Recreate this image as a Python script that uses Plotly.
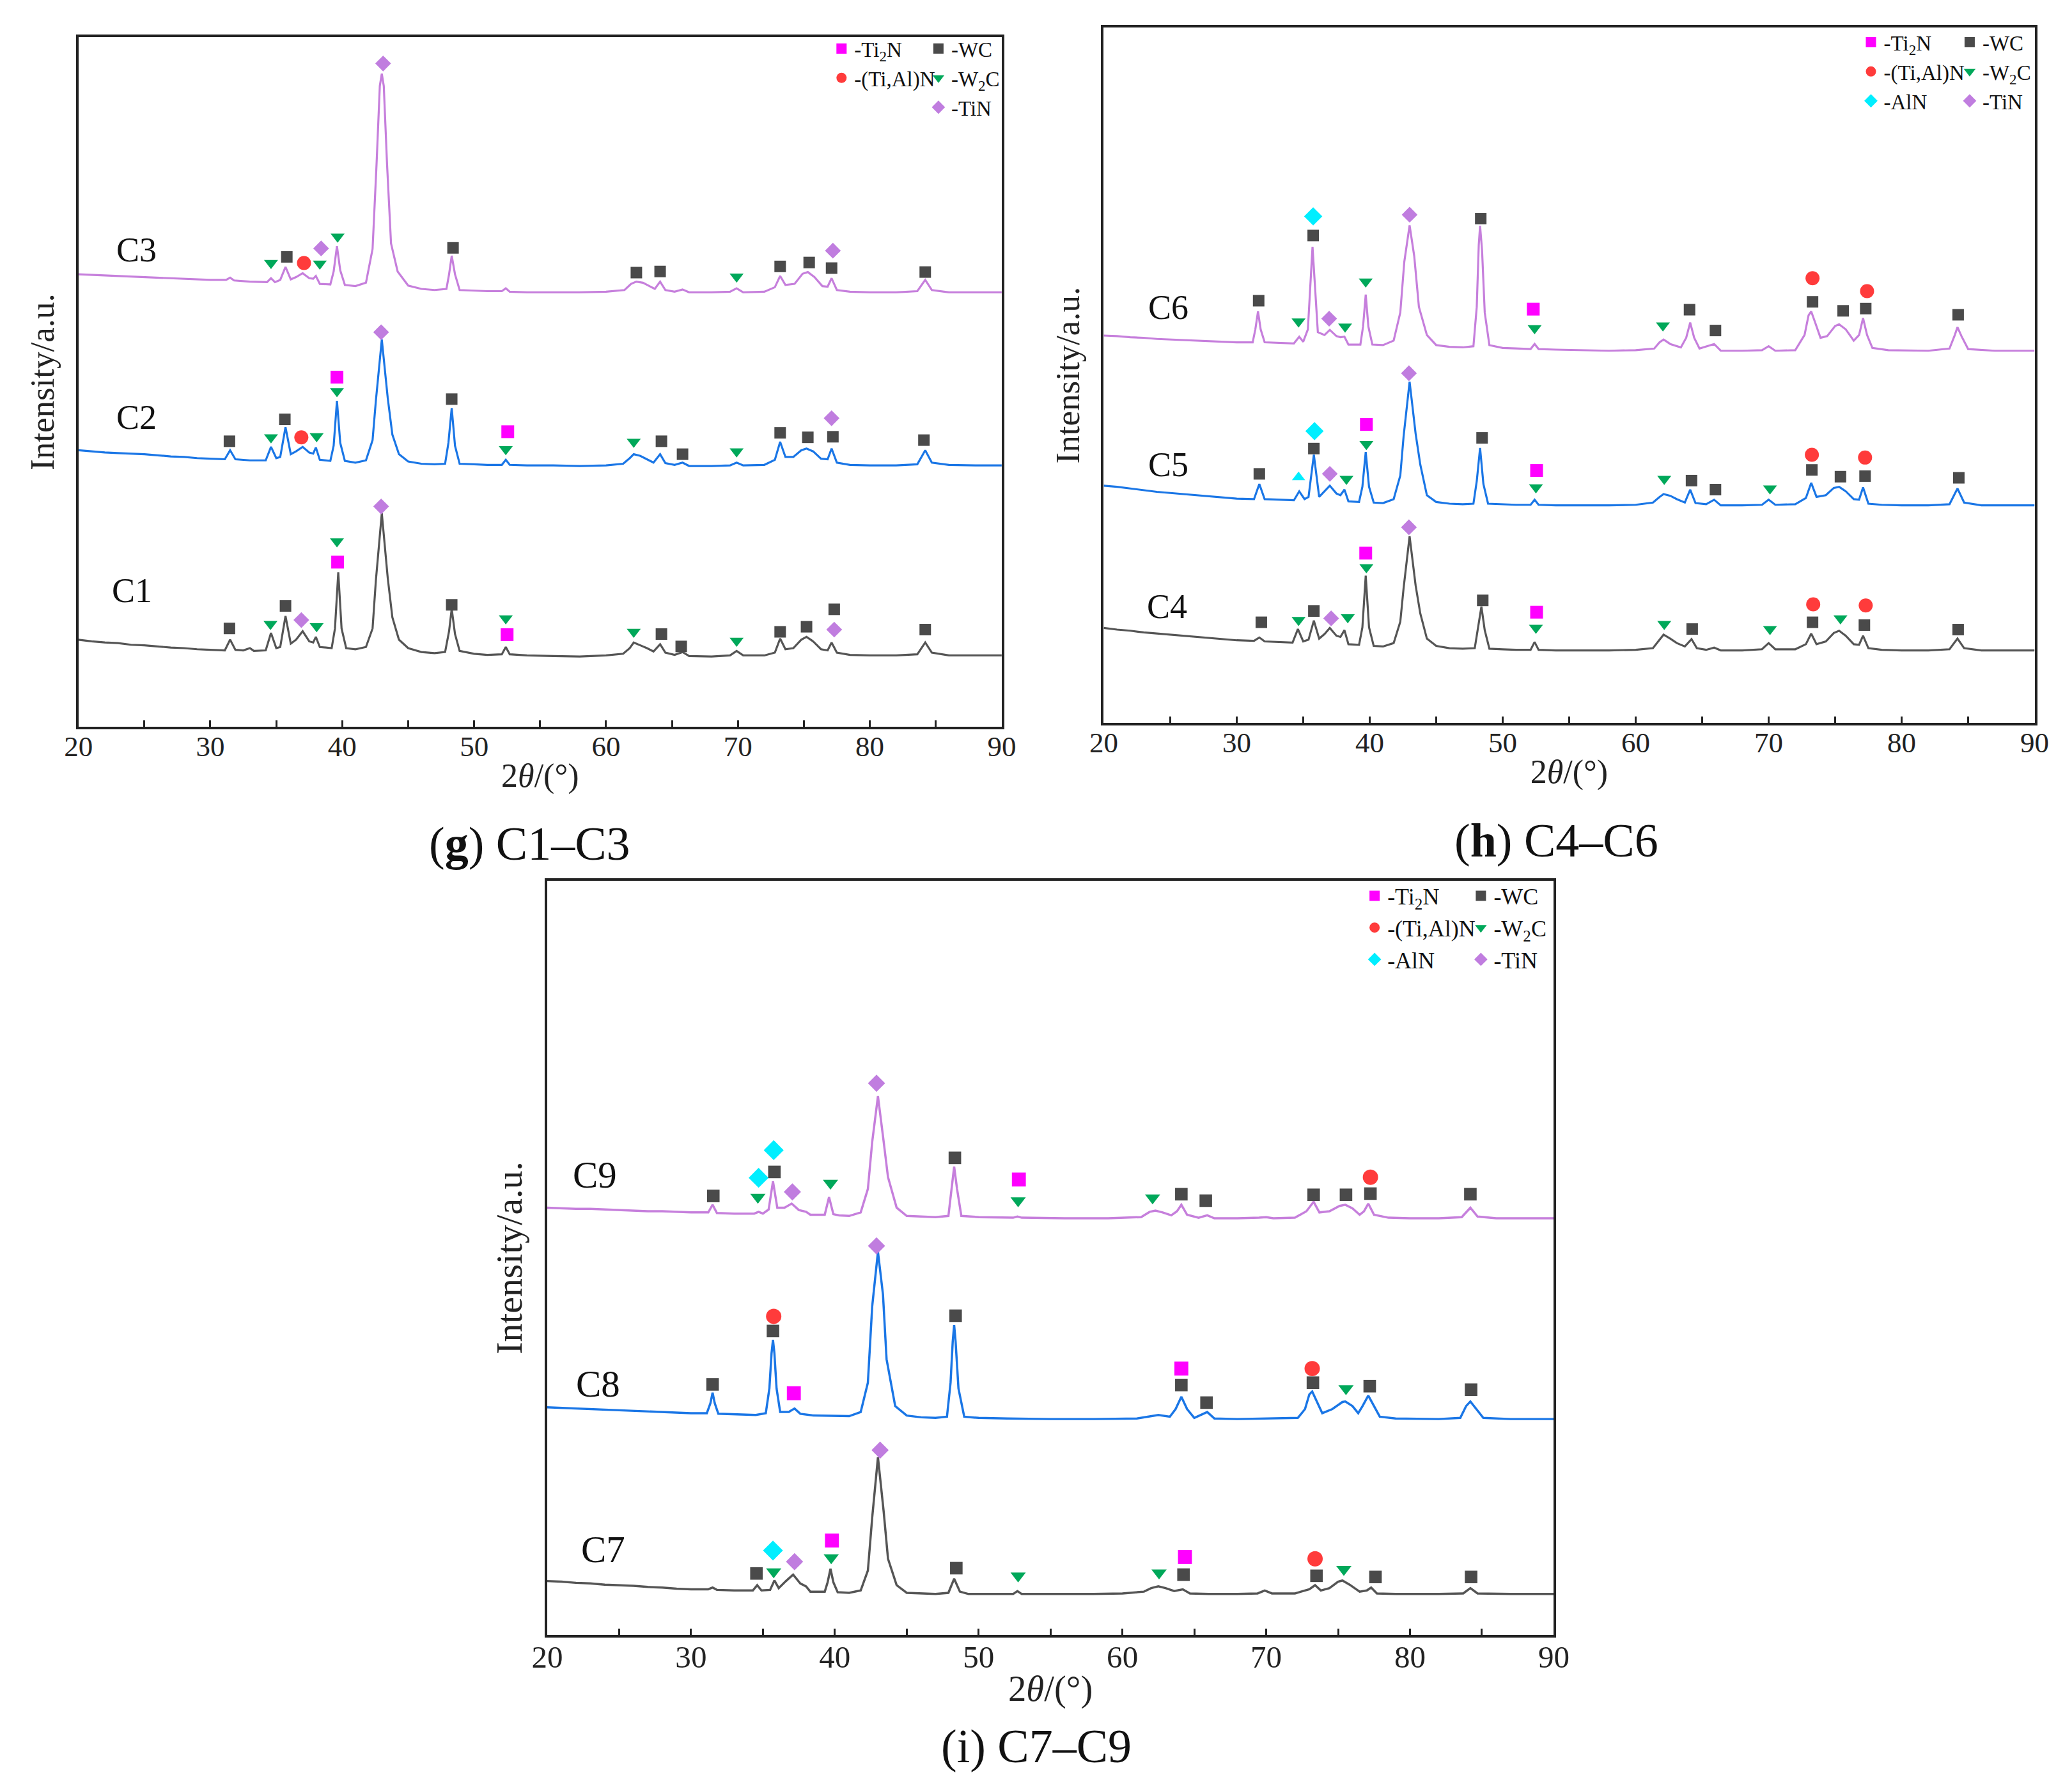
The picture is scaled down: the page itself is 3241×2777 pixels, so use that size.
import plotly.graph_objects as go

# XRD patterns: (2theta, intensity a.u.) vertices
# panel g
c1 = [(20, 155), (21, 152), (22, 150), (23, 149), (24, 146), (25, 145), (26, 143), (27, 141), (28, 140), (29, 138),
      (30, 137), (31.1, 136), (31.5, 155), (31.9, 137), (32.5, 136), (33.0, 140), (33.3, 135), (34.2, 136), (34.6, 167),
      (35.0, 140), (35.3, 142), (35.7, 197), (36.1, 148), (36.5, 155), (37.0, 170), (37.5, 152), (37.8, 150), (38.0, 160),
      (38.3, 142), (39.2, 140), (39.45, 175), (39.7, 275), (39.95, 175), (40.3, 140), (41, 138), (41.8, 142), (42.3, 175),
      (42.55, 260), (43.0, 380), (43.45, 265), (43.8, 195), (44.3, 155), (45, 140), (46, 133), (47, 131), (47.8, 133),
      (48.1, 170), (48.3, 210), (48.55, 165), (48.9, 135), (50, 130), (51, 128), (52.1, 129), (52.4, 142), (52.7, 129),
      (54, 127), (56, 126), (58, 125), (60, 127), (61.3, 130), (61.8, 140), (62.1, 150), (62.6, 145), (63.1, 140),
      (63.6, 134), (64.1, 147), (64.5, 132), (65.2, 128), (65.8, 133), (66.3, 126), (68, 125), (69.4, 127), (69.9, 135),
      (70.4, 127), (72, 127), (72.8, 132), (73.2, 157), (73.6, 138), (74.2, 140), (74.8, 155), (75.2, 160), (75.7, 152),
      (76.3, 138), (76.8, 136), (77.1, 150), (77.5, 132), (78.5, 128), (80, 127), (82, 127), (83.6, 129), (84.2, 150),
      (84.7, 132), (86, 127), (88, 127), (90, 127)]
c2 = [(20, 492), (21, 490), (22, 488), (23, 487), (24, 486), (25, 485), (26, 483), (27, 481), (28, 480), (29, 478),
      (30, 477), (31.1, 476), (31.5, 492), (31.9, 476), (33, 474), (34.2, 474), (34.6, 498), (35.0, 478), (35.3, 480),
      (35.7, 533), (36.1, 485), (36.5, 490), (37.0, 498), (37.5, 488), (37.8, 486), (38.0, 497), (38.3, 475), (39.1, 473),
      (39.35, 500), (39.6, 580), (39.85, 505), (40.2, 473), (41, 470), (41.8, 474), (42.3, 510), (42.55, 580),
      (43.0, 689), (43.45, 585), (43.8, 520), (44.3, 485), (45, 472), (46, 468), (47, 467), (47.8, 468), (48.05, 505),
      (48.3, 567), (48.55, 500), (48.9, 468), (50, 467), (51, 466), (52.1, 466), (52.4, 475), (52.7, 466), (54, 465),
      (56, 465), (58, 464), (60, 465), (61.3, 468), (61.8, 478), (62.1, 485), (62.6, 482), (63.1, 476), (63.6, 470),
      (64.1, 485), (64.5, 469), (65.2, 466), (65.8, 470), (66.3, 464), (68, 464), (69.4, 465), (69.9, 470), (70.4, 465),
      (72, 466), (72.8, 475), (73.2, 507), (73.6, 480), (74.2, 480), (74.8, 492), (75.2, 495), (75.7, 490), (76.3, 477),
      (76.8, 476), (77.1, 495), (77.5, 470), (78.5, 466), (80, 465), (82, 465), (83.6, 467), (84.2, 492), (84.7, 470),
      (86, 466), (88, 465), (90, 465)]
c3 = [(20, 805), (21, 804), (22, 803), (23, 802), (24, 801), (25, 800), (26, 799), (27, 798), (28, 797), (29, 796),
      (30, 795), (31.2, 795), (31.5, 799), (31.8, 794), (33, 792), (34.3, 791), (34.6, 798), (34.9, 791), (35.3, 795),
      (35.7, 818), (36.1, 796), (36.5, 800), (37.0, 807), (37.5, 798), (37.8, 797), (38.0, 802), (38.3, 788), (39.1, 787),
      (39.35, 810), (39.6, 855), (39.85, 812), (40.2, 786), (41, 784), (41.8, 790), (42.3, 850), (42.6, 1000),
      (42.85, 1140), (43.0, 1162), (43.15, 1140), (43.4, 1000), (43.7, 860), (44.2, 810), (45, 785), (46, 779), (47, 777),
      (47.9, 779), (48.1, 805), (48.3, 838), (48.55, 805), (48.9, 777), (50, 776), (51, 775), (52.1, 775), (52.4, 780),
      (52.7, 774), (54, 773), (56, 773), (58, 773), (60, 774), (61.4, 777), (61.9, 788), (62.3, 792), (62.8, 790),
      (63.3, 784), (63.7, 779), (64.1, 792), (64.5, 777), (65.2, 774), (65.8, 778), (66.3, 773), (68, 773), (69.4, 774),
      (69.9, 780), (70.4, 773), (72, 774), (72.8, 782), (73.2, 802), (73.6, 786), (74.3, 788), (74.9, 806), (75.3, 809),
      (75.8, 800), (76.4, 784), (76.8, 783), (77.1, 798), (77.5, 777), (78.5, 774), (80, 773), (82, 773), (83.6, 775),
      (84.2, 795), (84.7, 777), (86, 773), (88, 773), (90, 773)]

# panel h
c4 = [(20, 169), (21, 166), (22, 164), (23, 161), (24, 159), (25, 157), (26, 155), (27, 153), (28, 151), (29, 149),
      (30, 147), (31.3, 146), (31.7, 152), (32.1, 145), (33, 144), (34.2, 143), (34.6, 167), (35.0, 145), (35.4, 148),
      (35.8, 182), (36.2, 150), (36.6, 158), (37.0, 169), (37.5, 155), (37.8, 153), (38.1, 165), (38.4, 140), (39.2, 139),
      (39.45, 170), (39.7, 262), (39.95, 170), (40.3, 137), (41, 136), (41.8, 142), (42.3, 180), (42.55, 240),
      (43.0, 332), (43.45, 245), (43.8, 195), (44.3, 150), (45, 137), (46, 133), (47, 132), (47.9, 133), (48.15, 170),
      (48.4, 207), (48.65, 165), (49, 132), (50, 131), (51, 130), (52.1, 130), (52.4, 144), (52.7, 130), (54, 129),
      (56, 129), (58, 129), (60, 130), (61.3, 133), (61.8, 148), (62.1, 157), (62.6, 150), (63.1, 142), (63.7, 136),
      (64.2, 149), (64.6, 133), (65.3, 130), (65.9, 134), (66.4, 129), (68, 129), (69.5, 131), (70.0, 142), (70.5, 131),
      (72, 131), (72.8, 140), (73.2, 159), (73.6, 140), (74.3, 145), (74.9, 160), (75.3, 164), (75.8, 155), (76.4, 140),
      (76.8, 139), (77.1, 155), (77.5, 133), (78.5, 130), (80, 129), (82, 129), (83.6, 131), (84.2, 150), (84.7, 133),
      (86, 129), (88, 129), (90, 129)]
c5 = [(20, 422), (21, 420), (22, 417), (23, 414), (24, 411), (25, 409), (26, 407), (27, 405), (28, 403), (29, 401),
      (30, 399), (31.3, 398), (31.7, 425), (32.1, 398), (33, 397), (34.3, 396), (34.7, 412), (35.1, 398), (35.4, 402),
      (35.8, 477), (36.2, 402), (36.6, 412), (37.0, 422), (37.5, 408), (37.8, 405), (38.1, 415), (38.4, 394), (39.2, 393),
      (39.45, 420), (39.7, 482), (39.95, 420), (40.3, 392), (41, 391), (41.8, 398), (42.3, 440), (42.55, 510),
      (43.0, 607), (43.45, 515), (43.8, 460), (44.3, 405), (45, 393), (46, 390), (47, 389), (47.8, 390), (48.05, 430),
      (48.3, 489), (48.55, 425), (48.9, 390), (50, 389), (51, 388), (52.1, 388), (52.4, 397), (52.7, 388), (54, 387),
      (56, 387), (58, 387), (60, 388), (61.3, 392), (61.8, 402), (62.1, 407), (62.6, 404), (63.1, 398), (63.7, 392),
      (64.1, 415), (64.5, 391), (65.3, 389), (65.9, 397), (66.4, 387), (68, 387), (69.5, 388), (70.0, 397), (70.5, 388),
      (72, 389), (72.8, 400), (73.2, 427), (73.6, 402), (74.3, 405), (74.9, 418), (75.3, 420), (75.8, 412), (76.4, 398),
      (76.8, 397), (77.1, 419), (77.5, 390), (78.5, 388), (80, 387), (82, 387), (83.6, 389), (84.2, 417), (84.7, 392),
      (86, 387), (88, 387), (90, 387)]
c6 = [(20, 689), (21, 688), (22, 686), (23, 685), (24, 683), (25, 682), (26, 681), (27, 680), (28, 679), (29, 678),
      (30, 677), (31.2, 677), (31.4, 700), (31.6, 732), (31.8, 700), (32.1, 677), (33, 676), (34.3, 675), (34.7, 687),
      (35.0, 678), (35.35, 700), (35.55, 790), (35.7, 847), (35.85, 790), (36.1, 695), (36.6, 690), (37.0, 699),
      (37.5, 688), (37.8, 686), (38.1, 687), (38.4, 673), (39.3, 673), (39.5, 705), (39.7, 762), (39.9, 705), (40.2, 673),
      (41, 672), (41.8, 680), (42.3, 730), (42.6, 820), (43.0, 885), (43.35, 830), (43.7, 740), (44.3, 690), (45, 672),
      (46, 669), (47, 668), (47.8, 670), (48.05, 740), (48.2, 850), (48.3, 884), (48.45, 840), (48.65, 730), (49, 672),
      (50, 667), (51, 666), (52.1, 665), (52.4, 674), (52.7, 665), (54, 664), (56, 663), (58, 662), (60, 663), (61.4, 666),
      (61.8, 677), (62.1, 682), (62.6, 674), (63.4, 668), (63.8, 685), (64.1, 712), (64.4, 685), (64.8, 666), (65.9, 674),
      (66.4, 662), (68, 662), (69.5, 663), (70.0, 670), (70.5, 662), (72, 663), (72.7, 690), (73.0, 725), (73.2, 732),
      (73.5, 712), (73.9, 685), (74.4, 688), (75.0, 706), (75.3, 709), (75.8, 700), (76.4, 680), (76.8, 690), (77.1, 720),
      (77.4, 690), (77.8, 667), (79, 663), (82, 662), (83.6, 666), (84.0, 690), (84.2, 704), (84.5, 688), (85, 665),
      (87, 662), (90, 662)]

# panel i
c7 = [(20, 92), (21, 91), (22, 89), (23, 88), (24, 86), (25, 85), (26, 84), (27, 82), (28, 81), (29, 79), (30, 78),
      (31.2, 78), (31.5, 81), (31.8, 77), (33, 76), (34.3, 76), (34.6, 85), (34.9, 76), (35.5, 77), (35.8, 93), (36.1, 80),
      (36.6, 92), (37.1, 103), (37.6, 88), (38.0, 83), (38.3, 74), (39.3, 74), (39.5, 90), (39.7, 113), (39.9, 90),
      (40.2, 73), (41, 72), (41.8, 76), (42.3, 110), (42.6, 200), (43.0, 303), (43.4, 210), (43.7, 130), (44.3, 85),
      (45, 72), (46, 71), (47, 70), (47.9, 72), (48.3, 96), (48.7, 74), (49.3, 70), (51, 70), (52.4, 70), (52.7, 75),
      (53, 70), (55, 70), (58, 70), (60, 71), (61.5, 74), (62.0, 80), (62.5, 83), (63.0, 80), (63.6, 75), (64.2, 78),
      (64.7, 71), (66, 70), (68, 70), (69.4, 71), (69.9, 76), (70.4, 71), (72, 71), (73.0, 78), (73.4, 85), (73.8, 76),
      (74.4, 80), (75.0, 91), (75.3, 93), (75.8, 86), (76.5, 74), (77.0, 76), (77.3, 81), (77.7, 71), (79, 70), (82, 70),
      (83.7, 71), (84.2, 80), (84.7, 71), (87, 70), (90, 70)]
c8 = [(20, 388), (21, 387), (22, 386), (23, 385), (24, 384), (25, 383), (26, 382), (27, 381), (28, 380), (29, 379),
      (30, 378), (31.1, 378), (31.35, 395), (31.5, 413), (31.65, 395), (31.9, 377), (33, 376), (34.5, 375), (35.2, 378),
      (35.45, 420), (35.6, 480), (35.7, 503), (35.8, 480), (35.95, 420), (36.2, 380), (36.8, 380), (37.2, 386),
      (37.6, 377), (38.5, 374), (40, 373), (41, 373), (41.8, 380), (42.3, 430), (42.6, 560), (43.0, 653), (43.35, 580),
      (43.6, 470), (44.2, 390), (45, 374), (46, 371), (47, 370), (47.8, 372), (48.05, 430), (48.2, 500), (48.3, 528),
      (48.4, 500), (48.6, 420), (49, 372), (50, 370), (52, 369), (55, 368), (58, 368), (61, 369), (62.5, 375), (63.3, 372),
      (63.7, 385), (64.1, 406), (64.5, 385), (65.0, 370), (65.9, 380), (66.4, 369), (68, 368), (70, 369), (72.2, 370),
      (72.7, 385), (73.0, 410), (73.2, 415), (73.5, 400), (73.9, 378), (74.6, 385), (75.3, 397), (75.5, 398), (76.0, 390),
      (76.4, 378), (76.7, 390), (77.1, 408), (77.4, 395), (77.9, 372), (79, 369), (82, 368), (83.5, 370), (83.9, 390),
      (84.2, 398), (84.6, 385), (85.1, 370), (87, 368), (90, 368)]
c9 = [(20, 728), (21, 727), (22, 726), (23, 726), (24, 725), (25, 724), (26, 723), (27, 722), (28, 722), (29, 721),
      (30, 720), (31.2, 720), (31.5, 733), (31.8, 719), (33, 718), (34.4, 718), (34.7, 721), (35.0, 718), (35.4, 725),
      (35.7, 773), (36.0, 728), (36.5, 728), (37.0, 735), (37.5, 724), (38.0, 721), (38.3, 716), (39.3, 716), (39.6, 746),
      (39.9, 717), (40.3, 715), (41, 714), (41.8, 720), (42.3, 760), (42.6, 840), (43.0, 918), (43.35, 850), (43.7, 780),
      (44.3, 728), (45, 714), (46, 713), (47, 712), (47.9, 714), (48.1, 760), (48.3, 798), (48.5, 760), (48.8, 714),
      (50, 712), (52.4, 711), (52.7, 713), (53, 711), (56, 710), (59, 710), (61.3, 712), (61.9, 721), (62.3, 723),
      (62.8, 720), (63.4, 715), (63.8, 722), (64.1, 733), (64.5, 716), (65.3, 711), (65.9, 715), (66.4, 710), (68, 710),
      (69.5, 711), (70.0, 712), (70.5, 710), (72, 711), (72.8, 722), (73.3, 738), (73.7, 720), (74.4, 722), (75.1, 731),
      (75.5, 733), (76.0, 727), (76.5, 716), (76.8, 722), (77.1, 735), (77.5, 716), (78.5, 711), (80, 710), (82, 710),
      (83.6, 712), (84.2, 728), (84.7, 713), (86, 710), (88, 710), (90, 710)]

# phase identification marks: (phase, 2theta, height)
marks_g = [
    ('WC', 31.45, 175), ('W2C', 34.56, 183), ('WC', 35.7, 215), ('TiN', 36.9, 190), ('W2C', 38.06, 179),
    ('Ti2N', 39.65, 293), ('W2C', 39.6, 330), ('TiN', 42.95, 392), ('WC', 48.3, 217), ('W2C', 52.4, 193),
    ('Ti2N', 52.5, 164), ('W2C', 62.1, 169), ('WC', 64.2, 165), ('WC', 65.7, 143), ('W2C', 69.9, 153),
    ('WC', 73.2, 169), ('WC', 75.2, 178), ('WC', 77.3, 209), ('TiN', 77.3, 173), ('WC', 84.2, 173),
    ('WC', 31.45, 508), ('W2C', 34.6, 515), ('WC', 35.65, 547), ('TiAlN', 36.9, 515), ('W2C', 38.06, 517),
    ('Ti2N', 39.6, 622), ('W2C', 39.6, 597), ('TiN', 42.95, 702), ('WC', 48.3, 583), ('Ti2N', 52.55, 525),
    ('W2C', 52.4, 494), ('W2C', 62.1, 507), ('WC', 64.2, 508), ('WC', 65.8, 485), ('W2C', 69.9, 490),
    ('WC', 73.2, 523), ('WC', 75.3, 515), ('WC', 77.2, 516), ('TiN', 77.1, 549), ('WC', 84.1, 510),
    ('W2C', 34.6, 825), ('WC', 35.8, 836), ('TiAlN', 37.1, 825), ('TiN', 38.4, 851), ('W2C', 38.3, 824),
    ('W2C', 39.65, 872), ('TiN', 43.1, 1180), ('WC', 48.4, 852), ('WC', 62.3, 808), ('WC', 64.1, 810),
    ('W2C', 69.9, 801), ('WC', 73.2, 819), ('WC', 75.4, 826), ('WC', 77.1, 816), ('TiN', 77.2, 847), ('WC', 84.2, 809),
]
marks_h = [
    ('WC', 31.85, 179), ('W2C', 34.65, 183), ('WC', 35.8, 199), ('TiN', 37.1, 186), ('W2C', 38.35, 188),
    ('Ti2N', 39.7, 302), ('W2C', 39.75, 277), ('TiN', 42.95, 348), ('WC', 48.5, 218), ('Ti2N', 52.55, 197),
    ('W2C', 52.5, 169), ('W2C', 62.15, 176), ('WC', 64.25, 167), ('W2C', 70.1, 167), ('TiAlN', 73.35, 211),
    ('WC', 73.3, 179), ('W2C', 75.4, 186), ('TiAlN', 77.3, 209), ('WC', 77.2, 174), ('WC', 84.25, 166),
    ('WC', 31.7, 443), ('AlN2', 34.65, 437), ('WC', 35.8, 488), ('AlN', 35.85, 519), ('TiN', 37.0, 443),
    ('W2C', 38.25, 434), ('Ti2N', 39.75, 531), ('W2C', 39.75, 496), ('TiN', 42.95, 622), ('WC', 48.45, 507),
    ('Ti2N', 52.55, 449), ('W2C', 52.5, 419), ('W2C', 62.15, 434), ('WC', 64.2, 431), ('WC', 66.0, 415),
    ('W2C', 70.1, 417), ('TiAlN', 73.25, 477), ('WC', 73.25, 450), ('WC', 75.4, 438), ('TiAlN', 77.25, 472),
    ('WC', 77.25, 439), ('WC', 84.3, 436),
    ('WC', 31.65, 751), ('W2C', 34.65, 714), ('AlN', 35.75, 901), ('WC', 35.75, 867), ('TiN', 36.95, 719),
    ('W2C', 38.15, 705), ('W2C', 39.7, 785), ('TiN', 43.0, 904), ('WC', 48.35, 897), ('Ti2N', 52.3, 736),
    ('W2C', 52.4, 702), ('W2C', 62.05, 707), ('WC', 64.05, 735), ('WC', 66.0, 698), ('TiAlN', 73.3, 791),
    ('WC', 73.3, 749), ('WC', 75.6, 733), ('TiAlN', 77.4, 768), ('WC', 77.3, 737), ('WC', 84.25, 726),
]
marks_i = [
    ('WC', 34.55, 105), ('W2C', 35.75, 108), ('AlN', 35.7, 144), ('TiN', 37.2, 125), ('Ti2N', 39.8, 161),
    ('W2C', 39.75, 132), ('TiN', 43.15, 315), ('WC', 48.45, 114), ('W2C', 52.75, 101), ('W2C', 62.55, 106),
    ('Ti2N', 64.35, 133), ('WC', 64.25, 103), ('TiAlN', 73.4, 130), ('WC', 73.5, 101), ('W2C', 75.4, 112),
    ('WC', 77.6, 99), ('WC', 84.25, 99),
    ('WC', 31.5, 427), ('WC', 35.7, 518), ('TiAlN', 35.75, 543), ('Ti2N', 37.15, 412), ('TiN', 42.9, 663),
    ('WC', 48.4, 544), ('Ti2N', 64.1, 454), ('WC', 64.1, 426), ('WC', 65.85, 396), ('TiAlN', 73.2, 454),
    ('WC', 73.25, 430), ('W2C', 75.55, 420), ('WC', 77.2, 424), ('WC', 84.25, 418),
    ('WC', 31.55, 748), ('W2C', 34.65, 746), ('AlN', 34.7, 779), ('AlN', 35.75, 826), ('WC', 35.8, 789),
    ('TiN', 37.05, 755), ('W2C', 39.7, 770), ('TiN', 42.9, 940), ('WC', 48.35, 813), ('Ti2N', 52.8, 776),
    ('W2C', 52.75, 740), ('W2C', 62.1, 745), ('WC', 64.1, 751), ('WC', 65.8, 740), ('WC', 73.3, 750),
    ('WC', 75.55, 750), ('TiAlN', 77.25, 780), ('WC', 77.25, 752), ('WC', 84.2, 751),
]

FONT = 'Liberation Serif'
CURVE_COLORS = ['#555555', '#1a76e6', '#c67fdc']

# phase -> legend name, symbol, colour, size, legend column (None = not in legend)
PHASES = {
    'Ti2N': ('-Ti<sub>2</sub>N', 'square', '#ff00ff', 20, 0),
    'TiAlN': ('-(Ti,Al)N', 'circle', '#ff3b3b', 22, 0),
    'AlN': ('-AlN', 'diamond', '#00eeff', 22, 0),
    'AlN2': ('-AlN', 'triangle-up', '#00eeff', 18, None),
    'WC': ('-WC', 'square', '#4a4a4a', 18, 1),
    'W2C': ('-W<sub>2</sub>C', 'triangle-down', '#00a85a', 19, 1),
    'TiN': ('-TiN', 'diamond', '#c07ddf', 19, 1),
}
ORDER = ['Ti2N', 'TiAlN', 'AlN', 'AlN2', 'WC', 'W2C', 'TiN']

panels = [
    dict(ax='', curves=[('C1', c1), ('C2', c2), ('C3', c3)], marks=marks_g, ymax=1227,
         xdom=[0.0281, 0.4807], ydom=[0.5934, 0.9820], k=1.0,
         labels=[(24.05, 242), (24.4, 550), (24.4, 848)],
         legends=[('legend', 0.3959, 0.9856), ('legend2', 0.4434, 0.9856)],
         caption='(<b>g</b>) C1–C3', cap_xy=(0.2493, 0.5275)),
    dict(ax='2', curves=[('C4', c4), ('C5', c5), ('C6', c6)], marks=marks_h, ymax=1237,
         xdom=[0.5307, 0.9870], ydom=[0.5956, 0.9874], k=1.0,
         labels=[(24.75, 207), (24.85, 459), (24.85, 739)],
         legends=[('legend3', 0.9005, 0.9892), ('legend4', 0.9489, 0.9892)],
         caption='(<b>h</b>) C4–C6', cap_xy=(0.7526, 0.5294)),
    dict(ax='3', curves=[('C7', c7), ('C8', c8), ('C9', c9)], marks=marks_i, ymax=1285,
         xdom=[0.2579, 0.7513], ydom=[0.0817, 0.5067], k=1.09,
         labels=[(23.9, 146), (23.55, 428), (23.3, 783)],
         legends=[('legend5', 0.6572, 0.5090), ('legend6', 0.7093, 0.5090)],
         caption='(i) C7–C9', cap_xy=(0.4977, 0.0191)),
]

fig = go.Figure()
layout = {}
annotations = []

for p in panels:
    xa, ya = 'x' + p['ax'], 'y' + p['ax']
    k = p['k']
    for (name, pts), col in zip(p['curves'], CURVE_COLORS):
        fig.add_trace(go.Scatter(x=[a for a, b in pts], y=[b for a, b in pts], mode='lines',
                                 line=dict(color=col, width=3.2 * k), xaxis=xa, yaxis=ya,
                                 showlegend=False, hoverinfo='skip'))
    for ph in ORDER:
        pts = [(x, y) for q, x, y in p['marks'] if q == ph]
        if not pts:
            continue
        label, symbol, color, size, column = PHASES[ph]
        fig.add_trace(go.Scatter(
            x=[a for a, b in pts], y=[b for a, b in pts], mode='markers', name=label,
            marker=dict(symbol=symbol, color=color, size=size * k, line=dict(width=0)),
            xaxis=xa, yaxis=ya, cliponaxis=False,
            showlegend=column is not None,
            legend=p['legends'][column if column is not None else 0][0]))
    for lg, lx, ly in p['legends']:
        layout[lg] = dict(x=lx, y=ly, xanchor='left', yanchor='top', orientation='v',
                          bgcolor='rgba(0,0,0,0)', borderwidth=0, tracegroupgap=0,
                          font=dict(family=FONT, size=33 * k, color='#111'))

    axis_common = dict(showline=True, mirror=True, linecolor='#222', linewidth=3.5, showgrid=False,
                       zeroline=False)
    layout['xaxis' + p['ax']] = dict(
        axis_common, domain=p['xdom'], anchor=ya, range=[20, 90], tickvals=list(range(20, 91, 10)),
        ticks='inside', ticklen=10, tickwidth=2.5, tickcolor='#222', ticklabelstandoff=-12,
        minor=dict(tickvals=list(range(25, 90, 10)), ticks='inside', ticklen=10, tickwidth=2.5, tickcolor='#222'),
        tickfont=dict(family=FONT, size=45 * k, color='#222'),
        title=dict(text='2<i>θ</i>/(°)', font=dict(family=FONT, size=52 * k, color='#222'), standoff=4))
    layout['yaxis' + p['ax']] = dict(
        axis_common, domain=p['ydom'], anchor=xa, range=[0, p['ymax']], showticklabels=False, ticks='',
        title=dict(text='Intensity/a.u.', font=dict(family=FONT, size=53 * k, color='#222'), standoff=18))

    for (name, _), (lx, ly) in zip(p['curves'], p['labels']):
        annotations.append(dict(x=lx, y=ly, xref=xa, yref=ya, text=name, showarrow=False,
                                xanchor='center', yanchor='middle',
                                font=dict(family=FONT, size=54 * k, color='#111')))
    annotations.append(dict(x=p['cap_xy'][0], y=p['cap_xy'][1], xref='paper', yref='paper',
                            text=p['caption'], showarrow=False, xanchor='center', yanchor='middle',
                            font=dict(family=FONT, size=74, color='#111')))

fig.update_layout(**layout)
fig.update_layout(width=3241, height=2777, margin=dict(l=0, r=0, t=0, b=0),
                  paper_bgcolor='white', plot_bgcolor='white', annotations=annotations)

fig.write_html('out.html')
